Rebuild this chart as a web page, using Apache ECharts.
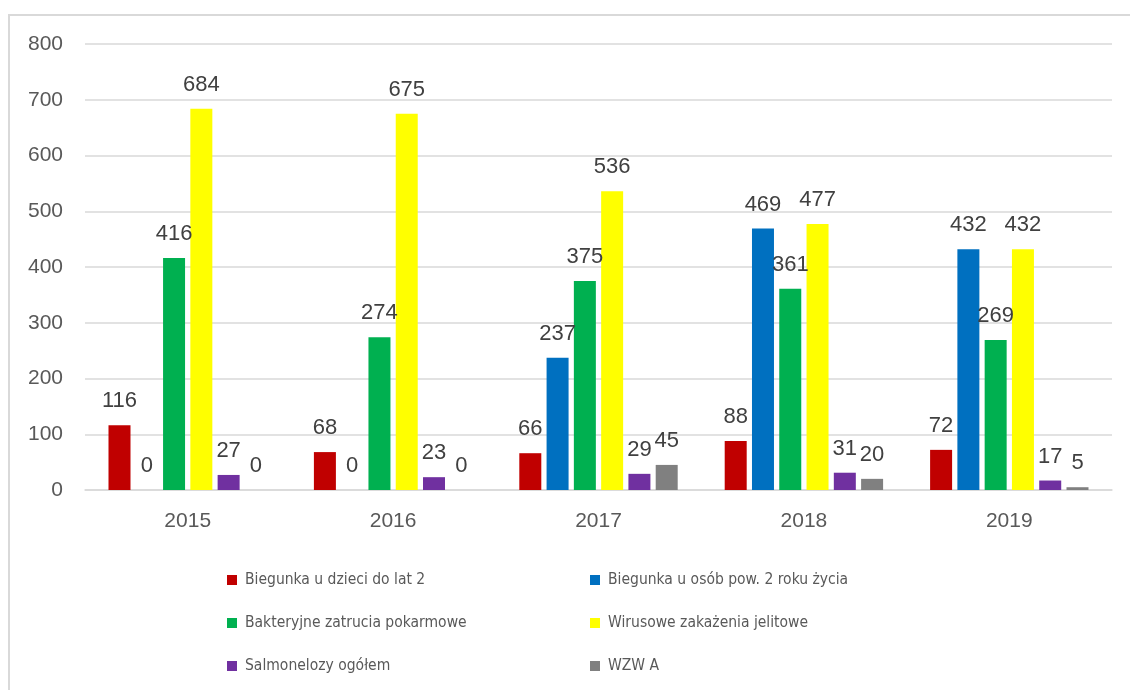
<!DOCTYPE html>
<html>
<head>
<meta charset="utf-8">
<script src="https://cdn.jsdelivr.net/npm/echarts@6/dist/echarts.min.js"></script>
<style>
  html, body { margin: 0; padding: 0; background: #fff; }
  #chart { width: 1130px; height: 690px; }
</style>
</head>
<body>
<div id="chart"></div>
<script>
// lata
const years = ['2015', '2016', '2017', '2018', '2019'];

// serie
const biegunkaDzieci = [116, 68, 66, 88, 72];
const biegunkaDorosli = [0, 0, 237, 469, 432];
const bakteryjne = [416, 274, 375, 361, 269];
const wirusowe = [684, 675, 536, 477, 432];
const salmonelozy = [27, 23, 29, 31, 17];
const wzwA = [0, 0, 45, 20, 5];

const names = [
  'Biegunka u dzieci do lat 2',
  'Biegunka u osób pow. 2 roku życia',
  'Bakteryjne zatrucia pokarmowe',
  'Wirusowe zakażenia jelitowe',
  'Salmonelozy ogółem',
  'WZW A'
];
const colors = ['#C00000', '#0070C0', '#00B050', '#FFFF00', '#7030A0', '#808080'];
const values = [biegunkaDzieci, biegunkaDorosli, bakteryjne, wirusowe, salmonelozy, wzwA];

const numFont = "'Liberation Sans', Arial, sans-serif";
const legendFont = "'DejaVu Sans Condensed', sans-serif";

const chart = echarts.init(document.getElementById('chart'));

const series = values.map((v, i) => ({
  name: names[i],
  type: 'bar',
  data: v,
  barWidth: 22,
  barGap: '24%',
  itemStyle: { color: colors[i] },
  label: {
    show: true,
    position: 'top',
    distance: 13,
    color: '#404040',
    fontSize: 22,
    fontFamily: numFont
  }
}));

const legendBase = {
  orient: 'vertical',
  itemWidth: 10,
  itemHeight: 10,
  itemGap: 27,
  icon: 'rect',
  selectedMode: false,
  textStyle: { color: '#595959', fontSize: 15.5, fontFamily: legendFont, padding: [0, 0, 0, 3] }
};

chart.setOption({
  animation: false,
  graphic: [{
    type: 'rect',
    shape: { x: 9, y: 15, width: 1130, height: 700 },
    style: { fill: 'none', stroke: '#d9d9d9', lineWidth: 2 },
    silent: true
  }],
  grid: { left: 85, right: 18, top: 44, bottom: 200 },
  legend: [
    Object.assign({}, legendBase, { left: 222, top: 567, data: [names[0], names[2], names[4]] }),
    Object.assign({}, legendBase, { left: 585, top: 567, data: [names[1], names[3], names[5]] })
  ],
  xAxis: {
    type: 'category',
    data: years,
    axisLine: { lineStyle: { color: '#d9d9d9', width: 1.5 } },
    axisTick: { show: false },
    axisLabel: { color: '#595959', fontSize: 21, fontFamily: numFont, margin: 21 }
  },
  yAxis: {
    type: 'value',
    min: 0,
    max: 800,
    interval: 100,
    axisLine: { show: false },
    axisTick: { show: false },
    splitLine: { lineStyle: { color: '#d9d9d9', width: 1.5 } },
    axisLabel: { color: '#595959', fontSize: 21, fontFamily: numFont, margin: 22 }
  },
  series: series
});
</script>
</body>
</html>
